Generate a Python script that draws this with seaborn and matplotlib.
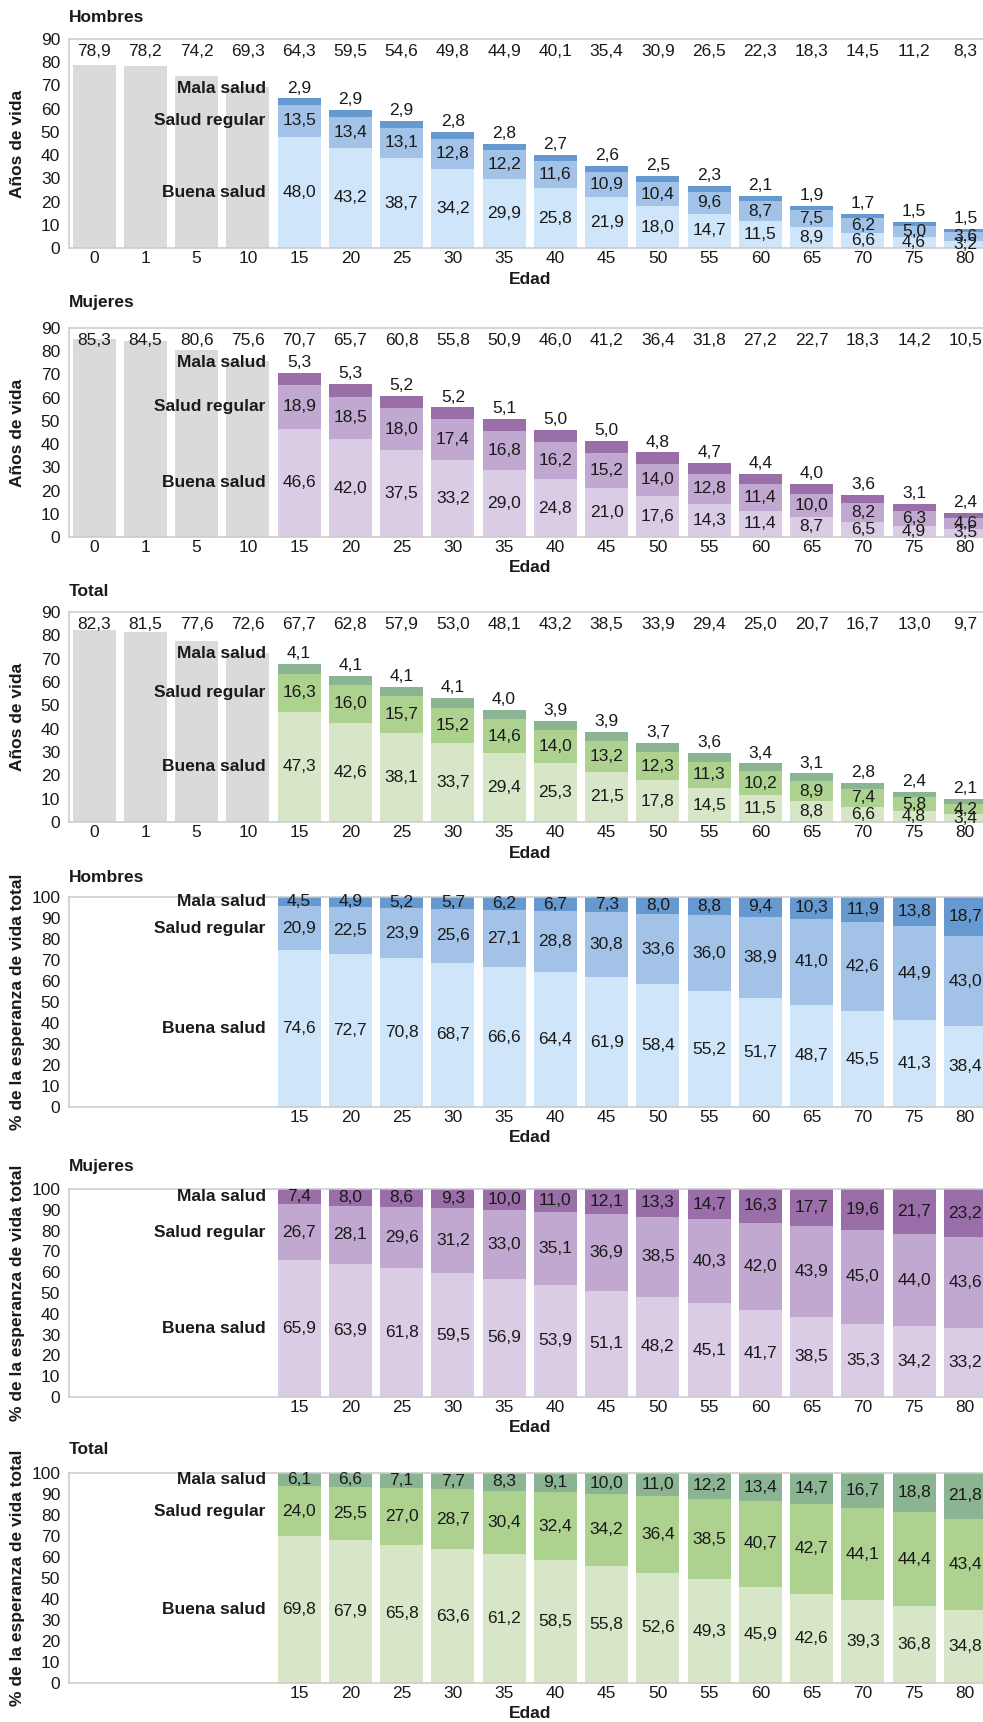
import numpy as np
import pandas as pd
import matplotlib
matplotlib.use("Agg")
import matplotlib.pyplot as plt
import seaborn as sns

# ---- Data -------------------------------------------------------------
ages = ["0", "1", "5", "10", "15", "20", "25", "30", "35", "40",
        "45", "50", "55", "60", "65", "70", "75", "80"]
health_ages = ages[4:]

# Life expectancy (years) by age
hombres_total = [78.9, 78.2, 74.2, 69.3, 64.3, 59.5, 54.6, 49.8, 44.9, 40.1,
                 35.4, 30.9, 26.5, 22.3, 18.3, 14.5, 11.2, 8.3]
hombres_buena = [48.0, 43.2, 38.7, 34.2, 29.9, 25.8, 21.9, 18.0, 14.7, 11.5, 8.9, 6.6, 4.6, 3.2]
hombres_regular = [13.5, 13.4, 13.1, 12.8, 12.2, 11.6, 10.9, 10.4, 9.6, 8.7, 7.5, 6.2, 5.0, 3.6]
hombres_mala = [2.9, 2.9, 2.9, 2.8, 2.8, 2.7, 2.6, 2.5, 2.3, 2.1, 1.9, 1.7, 1.5, 1.5]

mujeres_total = [85.3, 84.5, 80.6, 75.6, 70.7, 65.7, 60.8, 55.8, 50.9, 46.0,
                 41.2, 36.4, 31.8, 27.2, 22.7, 18.3, 14.2, 10.5]
mujeres_buena = [46.6, 42.0, 37.5, 33.2, 29.0, 24.8, 21.0, 17.6, 14.3, 11.4, 8.7, 6.5, 4.9, 3.5]
mujeres_regular = [18.9, 18.5, 18.0, 17.4, 16.8, 16.2, 15.2, 14.0, 12.8, 11.4, 10.0, 8.2, 6.3, 4.6]
mujeres_mala = [5.3, 5.3, 5.2, 5.2, 5.1, 5.0, 5.0, 4.8, 4.7, 4.4, 4.0, 3.6, 3.1, 2.4]

ambos_total = [82.3, 81.5, 77.6, 72.6, 67.7, 62.8, 57.9, 53.0, 48.1, 43.2,
               38.5, 33.9, 29.4, 25.0, 20.7, 16.7, 13.0, 9.7]
ambos_buena = [47.3, 42.6, 38.1, 33.7, 29.4, 25.3, 21.5, 17.8, 14.5, 11.5, 8.8, 6.6, 4.8, 3.4]
ambos_regular = [16.3, 16.0, 15.7, 15.2, 14.6, 14.0, 13.2, 12.3, 11.3, 10.2, 8.9, 7.4, 5.8, 4.2]
ambos_mala = [4.1, 4.1, 4.1, 4.1, 4.0, 3.9, 3.9, 3.7, 3.6, 3.4, 3.1, 2.8, 2.4, 2.1]

# Share of total life expectancy (%)
hombres_pct_buena = [74.6, 72.7, 70.8, 68.7, 66.6, 64.4, 61.9, 58.4, 55.2, 51.7, 48.7, 45.5, 41.3, 38.4]
hombres_pct_regular = [20.9, 22.5, 23.9, 25.6, 27.1, 28.8, 30.8, 33.6, 36.0, 38.9, 41.0, 42.6, 44.9, 43.0]
hombres_pct_mala = [4.5, 4.9, 5.2, 5.7, 6.2, 6.7, 7.3, 8.0, 8.8, 9.4, 10.3, 11.9, 13.8, 18.7]

mujeres_pct_buena = [65.9, 63.9, 61.8, 59.5, 56.9, 53.9, 51.1, 48.2, 45.1, 41.7, 38.5, 35.3, 34.2, 33.2]
mujeres_pct_regular = [26.7, 28.1, 29.6, 31.2, 33.0, 35.1, 36.9, 38.5, 40.3, 42.0, 43.9, 45.0, 44.0, 43.6]
mujeres_pct_mala = [7.4, 8.0, 8.6, 9.3, 10.0, 11.0, 12.1, 13.3, 14.7, 16.3, 17.7, 19.6, 21.7, 23.2]

ambos_pct_buena = [69.8, 67.9, 65.8, 63.6, 61.2, 58.5, 55.8, 52.6, 49.3, 45.9, 42.6, 39.3, 36.8, 34.8]
ambos_pct_regular = [24.0, 25.5, 27.0, 28.7, 30.4, 32.4, 34.2, 36.4, 38.5, 40.7, 42.7, 44.1, 44.4, 43.4]
ambos_pct_mala = [6.1, 6.6, 7.1, 7.7, 8.3, 9.1, 10.0, 11.0, 12.2, 13.4, 14.7, 16.7, 18.8, 21.8]

categories = ["Buena salud", "Salud regular", "Mala salud"]

# ---- Style ------------------------------------------------------------
BLUES = ["#cfe5f9", "#a2c3e7", "#6699d0"]
PURPLES = ["#d9cce4", "#c0a8d0", "#9a6ea9"]
GREENS = ["#d7e6c6", "#add18f", "#8bb592"]
GRAY = "#d9dadc"
SPINE = "#c9c9c9"
INK = "#1a1a1a"
FS = 12.5

sns.set_theme(style="white")
plt.rcParams["font.family"] = ["Liberation Sans", "DejaVu Sans"]
plt.rcParams["font.size"] = FS
plt.rcParams["text.color"] = INK

W, H = 983, 1722
fig = plt.figure(figsize=(W / 100, H / 100), dpi=100)
fig.patch.set_facecolor("white")

LEFT_PX = 68.5
STEP_PX = 51.25
BAR_W = 0.84


def fmt(v):
    return f"{v:.1f}".replace(".", ",")


def make_axes(top_px, bottom_px):
    return fig.add_axes([LEFT_PX / W, 1 - bottom_px / H,
                         len(ages) * STEP_PX / W, (bottom_px - top_px) / H])


def draw_bars(ax, x, vals, color):
    sns.barplot(x=x, y=vals, order=ages, color=color, saturation=1,
                width=BAR_W, linewidth=0, errorbar=None, ax=ax)


def panel(top_px, bottom_px, title, title_px, kind, total, buena, regular, mala, colors):
    ax = make_axes(top_px, bottom_px)
    b = np.array(buena)
    r = np.array(regular)
    m = np.array(mala)

    if kind == "years":
        draw_bars(ax, ages[:4], total[:4], GRAY)
    # stacked segments, drawn from the tallest cumulative layer down
    for vals, c in [(b + r + m, colors[2]), (b + r, colors[1]), (b, colors[0])]:
        draw_bars(ax, health_ages, vals, c)

    ymax = 90 if kind == "years" else 100
    ax.set_ylim(0, ymax)
    ax.set_xlim(-0.5, len(ages) - 0.5)
    ax.set_yticks(range(0, ymax + 1, 10))
    ax.set_xticks(range(len(ages)))
    if kind == "years":
        ax.set_xticklabels(ages)
    else:
        ax.set_xticklabels([""] * 4 + health_ages)

    # value labels
    label_y = []
    for j in range(len(health_ages)):
        xi = 4 + j
        ax.text(xi, b[j] / 2, fmt(b[j]), ha="center", va="center", fontsize=FS)
        ax.text(xi, b[j] + r[j] / 2, fmt(r[j]), ha="center", va="center", fontsize=FS)
        if kind == "years":
            ax.annotate(fmt(m[j]), xy=(xi, b[j] + r[j] + m[j]), xytext=(0, 7.5),
                        textcoords="offset points", ha="center", va="center", fontsize=FS)
        else:
            ax.text(xi, b[j] + r[j] + m[j] / 2, fmt(m[j]), ha="center", va="center", fontsize=FS)

    # category names next to the first stacked bar
    if kind == "years":
        pos = [(b[0] / 2, 0), (b[0] + r[0] / 2, 0), (b[0] + r[0] + m[0], 7.5)]
    else:
        pos = [(b[0] / 2, 0), (b[0] + r[0] / 2, 0), (b[0] + r[0] + m[0] / 2, 0)]
    for name, (yv, dy) in zip(categories, pos):
        ax.annotate(name, xy=(4 - BAR_W / 2, yv), xytext=(-8.5, dy),
                    textcoords="offset points", ha="right", va="center",
                    fontsize=FS, fontweight="bold")

    # totals along the top
    if kind == "years":
        for i, v in enumerate(total):
            ax.annotate(fmt(v), xy=(i, ymax), xytext=(0, -9), textcoords="offset points",
                        ha="center", va="center", fontsize=FS)

    # axes styling
    for s in ["top", "left", "bottom"]:
        ax.spines[s].set_visible(True)
        ax.spines[s].set_color(SPINE)
        ax.spines[s].set_linewidth(1.1)
    ax.spines["right"].set_visible(False)
    ax.tick_params(axis="both", length=0, labelsize=FS, labelcolor=INK)
    ax.tick_params(axis="y", pad=6)
    ax.tick_params(axis="x", pad=2)
    ax.grid(False)

    height_px = bottom_px - top_px
    ylab = "Años de vida" if kind == "years" else "% de la esperanza de vida total"
    ax.set_ylabel(ylab, fontsize=FS, fontweight="bold", color=INK)
    ax.yaxis.set_label_coords((18 - LEFT_PX) / (len(ages) * STEP_PX), 0.5)
    ax.yaxis.label.set_va("center")
    ax.set_xlabel("Edad", fontsize=FS, fontweight="bold", color=INK)
    ax.xaxis.set_label_coords(0.5, -31 / height_px)
    ax.xaxis.label.set_va("center")

    fig.text(LEFT_PX / W, 1 - title_px / H, title, ha="left", va="center",
             fontsize=FS, fontweight="bold", color=INK)
    return ax


panel(39, 248, "Hombres", 17, "years", hombres_total,
      hombres_buena, hombres_regular, hombres_mala, BLUES)
panel(328, 537, "Mujeres", 303, "years", mujeres_total,
      mujeres_buena, mujeres_regular, mujeres_mala, PURPLES)
panel(612, 822, "Total", 592, "years", ambos_total,
      ambos_buena, ambos_regular, ambos_mala, GREENS)
panel(897, 1107, "Hombres", 877, "pct", None,
      hombres_pct_buena, hombres_pct_regular, hombres_pct_mala, BLUES)
panel(1189, 1397, "Mujeres", 1167, "pct", None,
      mujeres_pct_buena, mujeres_pct_regular, mujeres_pct_mala, PURPLES)
panel(1473, 1683, "Total", 1450, "pct", None,
      ambos_pct_buena, ambos_pct_regular, ambos_pct_mala, GREENS)

fig.savefig("out.png", dpi=100, facecolor="white")
